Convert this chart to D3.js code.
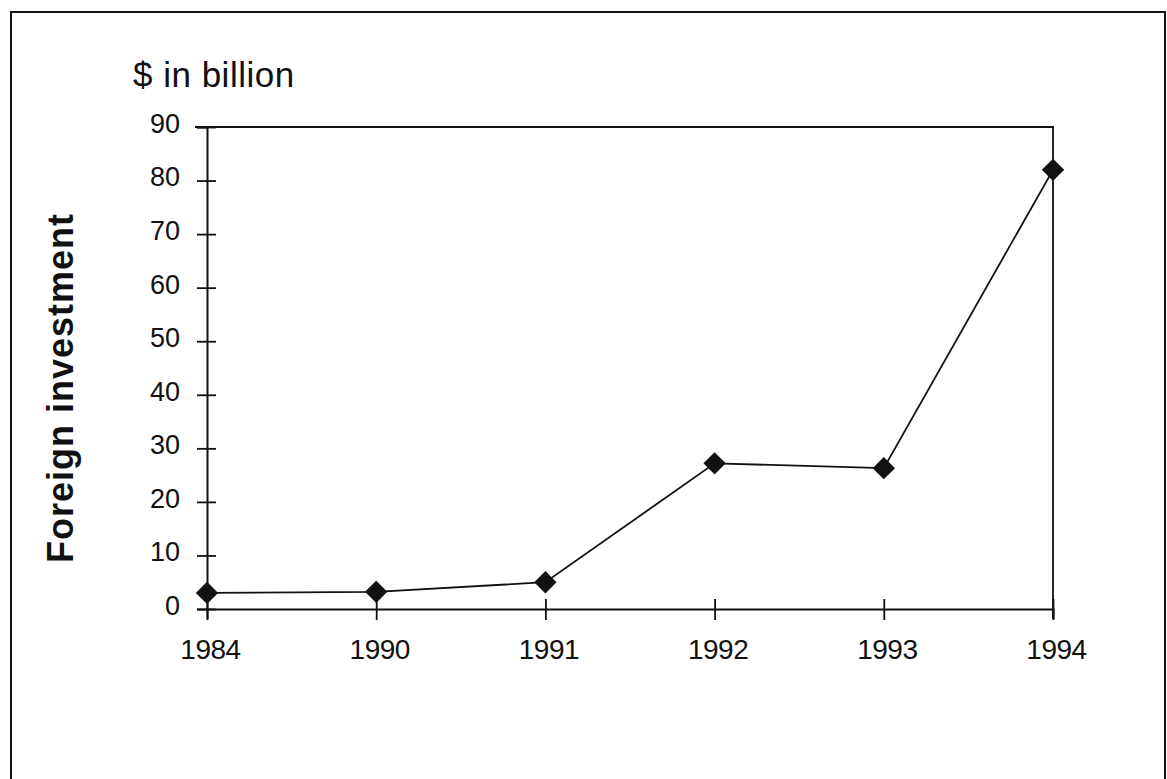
<!DOCTYPE html>
<html>
<head>
<meta charset="utf-8">
<script src="https://cdn.jsdelivr.net/npm/d3@7"></script>
<style>
  body { margin: 0; background: #fff; }
  svg { display: block; font-family: "Liberation Sans", Arial, sans-serif; }
</style>
</head>
<body>
<div id="chart"></div>
<script>
// data
const years = ["1984", "1990", "1991", "1992", "1993", "1994"];
const investment = [3.0, 3.2, 5.0, 27.2, 26.3, 82.0];
const yTicks = [0, 10, 20, 30, 40, 50, 60, 70, 80, 90];

const width = 1167, height = 779;
const margin = { top: 127, right: 114, bottom: 170, left: 207 };

const svg = d3.select("#chart")
  .append("svg")
  .attr("width", width)
  .attr("height", height);

// outer frame (bottom edge falls outside the picture)
svg.append("rect")
  .attr("x", 11)
  .attr("y", 12)
  .attr("width", 1154)
  .attr("height", 820)
  .attr("fill", "none")
  .attr("stroke", "#111")
  .attr("stroke-width", 2);

const x = d3.scalePoint()
  .domain(years)
  .range([margin.left, width - margin.right]);

const y = d3.scaleLinear()
  .domain([0, 90])
  .range([height - margin.bottom, margin.top]);

// plot box: top and right edges
svg.append("path")
  .attr("d", `M${margin.left - 12},${y(90)}H${x("1994")}V${y(0) + 10}`)
  .attr("fill", "none")
  .attr("stroke", "#111")
  .attr("stroke-width", 1.8);

// y axis, ticks crossing the line
const yAxis = svg.append("g")
  .attr("transform", `translate(${margin.left},0)`)
  .call(d3.axisLeft(y).tickValues(yTicks).tickSize(10).tickPadding(17));

yAxis.select(".domain").attr("stroke", "#111").attr("stroke-width", 2);
yAxis.selectAll(".tick line")
  .attr("x1", -10).attr("x2", 9)
  .attr("stroke", "#111").attr("stroke-width", 1.8);
yAxis.selectAll(".tick text")
  .attr("font-size", 27)
  .attr("fill", "#111")
  .attr("dy", "0.2em");

// x axis
const xAxis = svg.append("g")
  .attr("transform", `translate(0,${y(0)})`)
  .call(d3.axisBottom(x).tickSize(10).tickPadding(20));

xAxis.select(".domain").attr("stroke", "#111").attr("stroke-width", 2);
xAxis.selectAll(".tick line")
  .attr("y1", -10).attr("y2", 11)
  .attr("stroke", "#111").attr("stroke-width", 1.8);
xAxis.selectAll(".tick text")
  .attr("font-size", 28)
  .attr("letter-spacing", -0.5)
  .attr("dx", 3)
  .attr("fill", "#111");

// line
const line = d3.line()
  .x((d, i) => x(years[i]))
  .y((d) => y(d));

svg.append("path")
  .datum(investment)
  .attr("d", line)
  .attr("fill", "none")
  .attr("stroke", "#111")
  .attr("stroke-width", 1.8);

// diamond markers
svg.append("g")
  .selectAll("path")
  .data(investment)
  .enter()
  .append("path")
  .attr("d", d3.symbol().type(d3.symbolSquare).size(250))
  .attr("transform", (d, i) => `translate(${x(years[i])},${y(d)}) rotate(45)`)
  .attr("fill", "#111");

// unit label
svg.append("text")
  .attr("x", 133)
  .attr("y", 87)
  .attr("font-size", 35)
  .attr("letter-spacing", 0.5)
  .attr("fill", "#111")
  .text("$ in billion");

// axis title
svg.append("text")
  .attr("transform", `translate(73,388) rotate(-90)`)
  .attr("text-anchor", "middle")
  .attr("font-size", 36)
  .attr("letter-spacing", 1)
  .attr("font-weight", "bold")
  .attr("fill", "#111")
  .text("Foreign investment");
</script>
</body>
</html>
